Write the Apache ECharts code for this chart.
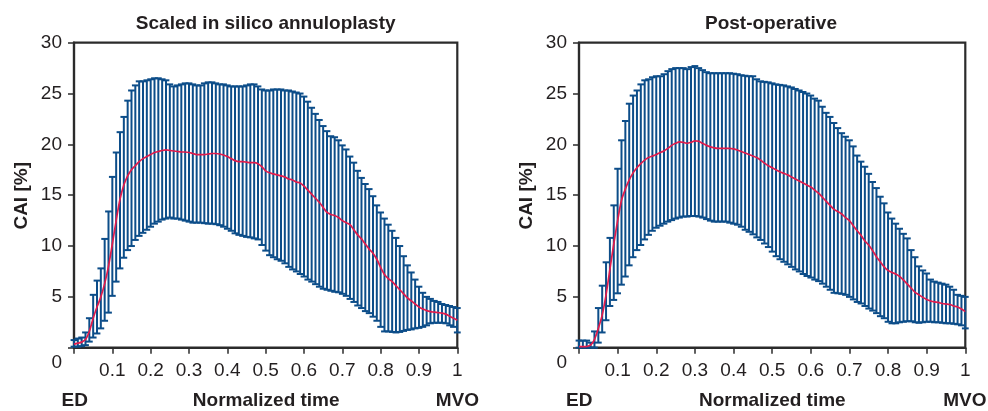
<!DOCTYPE html>
<html><head><meta charset="utf-8">
<script src="https://cdn.jsdelivr.net/npm/echarts@6/dist/echarts.min.js"></script>
<style>html,body{margin:0;padding:0;background:#fff}#c{width:988px;height:411px}</style>
</head><body><div id="c"></div>
<script>
const time = [0,0.01,0.02,0.03,0.04,0.05,0.06,0.07,0.08,0.09,
0.1,0.11,0.12,0.13,0.14,0.15,0.16,0.17,0.18,0.19,
0.2,0.21,0.22,0.23,0.24,0.25,0.26,0.27,0.28,0.29,
0.3,0.31,0.32,0.33,0.34,0.35,0.36,0.37,0.38,0.39,
0.4,0.41,0.42,0.43,0.44,0.45,0.46,0.47,0.48,0.49,
0.5,0.51,0.52,0.53,0.54,0.55,0.56,0.57,0.58,0.59,
0.6,0.61,0.62,0.63,0.64,0.65,0.66,0.67,0.68,0.69,
0.7,0.71,0.72,0.73,0.74,0.75,0.76,0.77,0.78,0.79,
0.8,0.81,0.82,0.83,0.84,0.85,0.86,0.87,0.88,0.89,
0.9,0.91,0.92,0.93,0.94,0.95,0.96,0.97,0.98,0.99,1];

// Scaled in silico annuloplasty
const scaledMean = [0.35,0.45,0.55,0.8,1.6,2.9,4.0,5.0,6.3,8.0,
10.2,12.5,14.6,16.0,16.9,17.5,17.9,18.3,18.6,18.8,
19.0,19.2,19.3,19.4,19.45,19.4,19.35,19.3,19.25,19.25,
19.2,19.1,19.0,19.0,19.0,19.05,19.1,19.1,19.05,18.95,
18.8,18.6,18.4,18.3,18.3,18.25,18.2,18.2,18.1,17.8,
17.4,17.2,17.1,17.0,16.9,16.8,16.6,16.5,16.3,16.2,
15.9,15.5,15.1,14.7,14.3,13.8,13.3,13.1,13.0,12.8,
12.5,12.3,12.1,11.6,11.1,10.7,10.2,9.7,9.3,8.7,
7.9,7.2,6.8,6.5,6.1,5.7,5.3,4.9,4.6,4.3,
4.0,3.8,3.65,3.55,3.5,3.45,3.4,3.3,3.1,2.9,
2.7];
const scaledUpper = [0.75,0.9,1.0,1.5,2.9,5.2,6.6,7.8,10.7,13.4,
16.8,19.2,21.2,22.7,24.3,25.3,25.8,26.2,26.2,26.3,
26.4,26.5,26.5,26.4,26.3,25.9,25.7,25.8,25.9,26.0,
26.0,25.9,25.8,25.8,26.0,26.1,26.1,26.0,25.9,25.9,
25.8,25.7,25.7,25.7,25.7,25.8,25.9,25.9,25.7,25.4,
25.3,25.3,25.4,25.4,25.4,25.3,25.3,25.2,25.1,25.0,
24.7,24.2,23.6,23.0,22.4,21.8,21.3,20.8,20.7,20.4,
19.9,19.5,18.8,18.2,17.4,16.7,16.1,15.6,14.9,14.0,
13.3,12.7,12.1,11.5,10.8,10.0,9.0,8.1,7.4,6.7,
6.0,5.4,5.0,4.8,4.6,4.5,4.3,4.2,4.1,4.0,
3.9];
const scaledLower = [0.1,0.1,0.15,0.25,0.6,1.0,1.4,1.9,2.65,3.45,
5.1,6.5,7.8,8.85,9.6,10.0,10.6,11.0,11.3,11.6,
11.9,12.2,12.4,12.6,12.7,12.8,12.7,12.7,12.6,12.5,
12.4,12.3,12.3,12.3,12.25,12.2,12.2,12.15,12.05,11.9,
11.7,11.5,11.25,11.1,11.0,10.9,10.85,10.75,10.65,10.1,
9.55,9.1,8.9,8.7,8.55,8.3,7.95,7.7,7.5,7.25,
7.0,6.7,6.5,6.25,6.0,5.8,5.7,5.6,5.5,5.45,
5.3,5.1,4.8,4.5,4.15,3.9,3.6,3.4,3.05,2.65,
2.05,1.6,1.6,1.55,1.5,1.55,1.65,1.75,1.8,1.9,
1.95,2.05,2.2,2.4,2.45,2.45,2.45,2.4,2.2,2.05,
1.5];

// Post-operative
const postMean = [0.1,0.1,0.12,0.25,0.8,1.9,3.2,5.2,7.7,10.2,
12.5,14.5,15.6,16.5,17.2,17.7,18.1,18.45,18.7,18.85,
19.0,19.2,19.35,19.6,19.9,20.1,20.25,20.2,20.1,20.2,
20.35,20.3,20.1,19.9,19.75,19.65,19.6,19.6,19.6,19.6,
19.55,19.45,19.3,19.15,19.0,18.85,18.7,18.45,18.15,17.9,
17.7,17.5,17.3,17.15,17.0,16.8,16.6,16.4,16.2,16.0,
15.8,15.5,15.2,14.8,14.4,14.0,13.6,13.4,13.15,12.8,
12.5,12.0,11.5,11.05,10.5,10.1,9.55,8.95,8.45,7.95,
7.6,7.4,7.25,7.0,6.65,6.25,5.85,5.45,5.2,4.95,
4.75,4.6,4.5,4.45,4.35,4.3,4.25,4.1,4.0,3.8,
3.55];
const postUpper = [0.7,0.7,0.7,0.5,1.6,3.9,6.1,8.4,10.8,14.0,
17.6,20.4,22.3,24.0,24.8,25.3,25.9,26.3,26.4,26.6,
26.7,26.7,26.9,27.2,27.4,27.5,27.5,27.5,27.4,27.6,
27.7,27.5,27.3,27.1,27.0,27.0,27.0,27.0,27.0,27.0,
26.95,26.9,26.8,26.75,26.7,26.7,26.4,26.2,26.15,26.1,
26.0,25.9,25.85,25.8,25.7,25.6,25.45,25.3,25.15,25.0,
24.8,24.5,24.3,23.7,23.1,22.7,22.1,21.6,21.1,20.75,
20.4,19.8,18.9,18.3,17.8,17.1,16.3,15.7,14.85,14.2,
13.3,12.7,12.2,11.7,11.2,10.75,9.6,8.9,8.0,7.6,
7.3,6.7,6.5,6.4,6.3,6.2,6.0,5.7,5.2,5.1,
5.0];
const postLower = [0,0,0,0,0,0.5,1.5,2.7,4.1,4.7,
5.35,6.2,7.0,8.1,8.9,9.6,10.1,10.65,11.1,11.5,
11.8,12.0,12.2,12.4,12.55,12.7,12.8,12.9,12.9,12.95,
12.95,12.9,12.8,12.65,12.5,12.4,12.4,12.4,12.4,12.3,
12.2,12.1,11.9,11.6,11.4,11.15,10.85,10.6,10.25,9.9,
9.45,9.0,8.7,8.45,8.2,7.95,7.7,7.5,7.25,7.05,
6.9,6.7,6.55,6.3,6.0,5.7,5.4,5.35,5.3,5.2,
5.0,4.75,4.5,4.35,4.1,3.85,3.65,3.4,3.1,2.9,
2.55,2.4,2.4,2.5,2.55,2.6,2.6,2.5,2.45,2.5,
2.55,2.55,2.5,2.5,2.45,2.4,2.4,2.35,2.3,2.2,
1.9];

const panelTitles = ['Scaled in silico annuloplasty', 'Post-operative'];
const yName = 'CAI [%]';
const xName = 'Normalized time';
const xStart = 'ED', xEnd = 'MVO';

const FONT = '"Liberation Sans", Arial, sans-serif';
const TXT = '#231f20';
const FRAME = '#2b2b2b';
const BAR = '#0c4d89';
const RED = '#e01b4c';

const grids = [
  {left: 74, top: 42.7, width: 383.3, height: 305},
  {left: 579, top: 42.7, width: 386.3, height: 305}
];

function xAxis(gi) {
  return {type:'value', gridIndex: gi, min: 0, max: 1, interval: 0.1,
    axisLine: {show: true, onZero: false, lineStyle: {color: FRAME, width: 2.2}},
    axisTick: {show: true, inside: false, length: 6, lineStyle: {color: FRAME, width: 1.5}},
    axisLabel: {fontSize: 19, color: TXT, fontFamily: FONT, margin: 14,
      formatter: v => v === 0 ? '' : String(+v.toFixed(1))},
    splitLine: {show: false}};
}
function yAxis(gi) {
  return {type:'value', gridIndex: gi, min: 0, max: 30, interval: 5,
    axisLine: {show: true, lineStyle: {color: FRAME, width: 2.2}},
    axisTick: {show: true, inside: false, length: 6, lineStyle: {color: FRAME, width: 1.5}},
    axisLabel: {fontSize: 19, color: TXT, fontFamily: FONT, margin: 12,
      formatter: v => v === 0 ? '{z|0}' : String(v),
      rich: {z: {fontSize: 19, color: TXT, fontFamily: FONT, padding: [30, 0, 0, 0]}}},
    splitLine: {show: false}};
}

function errSeries(gi, lower, upper) {
  return {type: 'custom', xAxisIndex: gi, yAxisIndex: gi, z: 2, clip: false,
    data: time.map((t, i) => [t, lower[i], upper[i]]),
    encode: {x: 0, y: [1, 2]},
    renderItem: (params, api) => {
      const x = api.value(0);
      const lo = api.coord([x, api.value(1)]);
      const hi = api.coord([x, api.value(2)]);
      const hw = 3.4;
      const st = {stroke: BAR, lineWidth: 2};
      return {type: 'group', children: [
        {type: 'line', shape: {x1: lo[0], y1: lo[1], x2: hi[0], y2: hi[1]}, style: st},
        {type: 'line', shape: {x1: hi[0] - hw, y1: hi[1], x2: hi[0] + hw, y2: hi[1]}, style: st},
        {type: 'line', shape: {x1: lo[0] - hw, y1: lo[1], x2: lo[0] + hw, y2: lo[1]}, style: st}
      ]};
    }};
}
function meanSeries(gi, mean) {
  return {type: 'line', xAxisIndex: gi, yAxisIndex: gi, z: 3,
    data: time.map((t, i) => [t, mean[i]]),
    smooth: 0.3, showSymbol: false, symbol: 'none',
    lineStyle: {color: RED, width: 1.7}};
}

function txt(text, x, y, rot) {
  return {type: 'text', x: x, y: y, rotation: rot || 0, z: 10,
    style: {text: text, font: 'bold 19px ' + FONT, fill: TXT, align: 'center', verticalAlign: 'middle'}};
}

const chart = echarts.init(document.getElementById('c'), null, {renderer: 'canvas'});
chart.setOption({
  animation: false,
  backgroundColor: '#fff',
  grid: grids.map(g => Object.assign({show: true, borderColor: FRAME, borderWidth: 2.2, backgroundColor: 'transparent'}, g)),
  xAxis: [xAxis(0), xAxis(1)],
  yAxis: [yAxis(0), yAxis(1)],
  series: [
    errSeries(0, scaledLower, scaledUpper), meanSeries(0, scaledMean),
    errSeries(1, postLower, postUpper), meanSeries(1, postMean)
  ],
  graphic: [
    txt(panelTitles[0], 265.7, 23.3), txt(panelTitles[1], 771, 23.3),
    txt(yName, 21.7, 195.8, Math.PI / 2), txt(yName, 526.5, 195.8, Math.PI / 2),
    txt(xStart, 74.8, 400.3), txt(xName, 266.2, 400.3), txt(xEnd, 457.3, 400.3),
    txt(xStart, 579.3, 400.3), txt(xName, 772.3, 400.3), txt(xEnd, 964.8, 400.3)
  ]
});
</script></body></html>
